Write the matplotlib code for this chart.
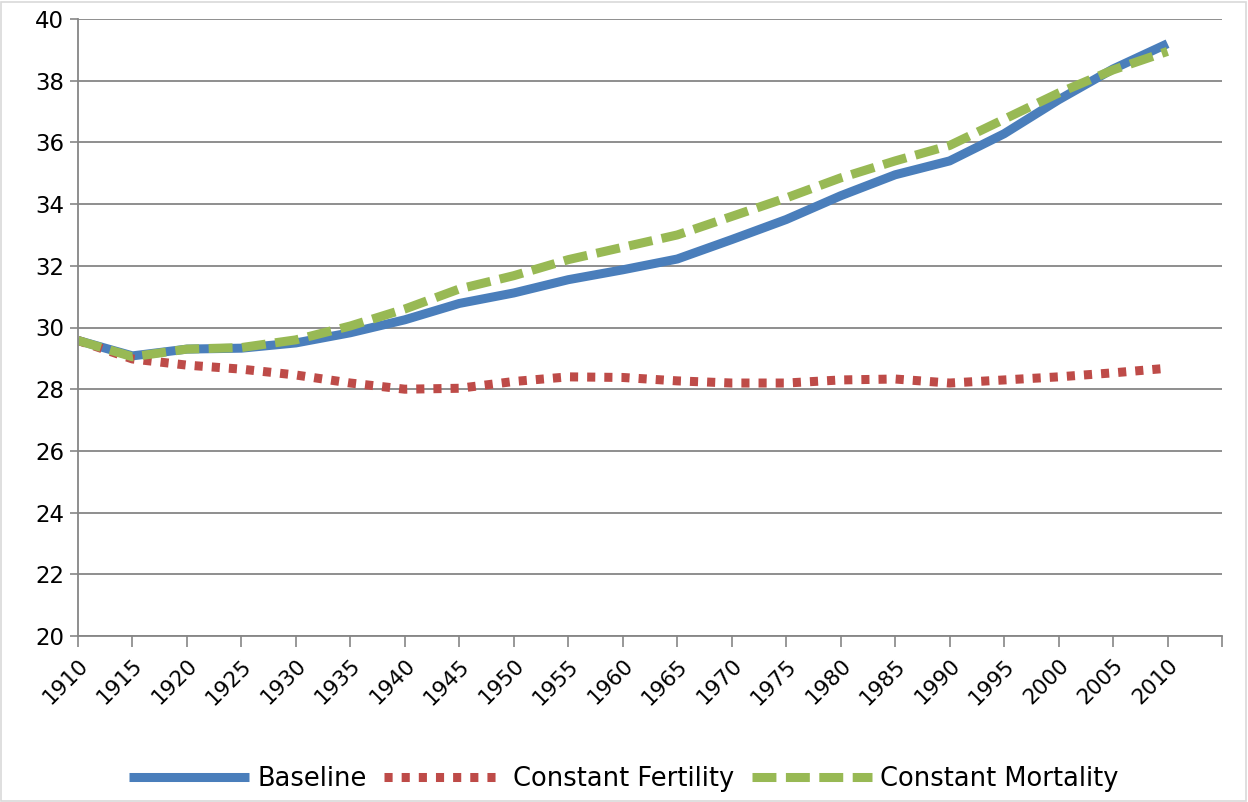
import matplotlib.pyplot as plt
from matplotlib.patches import Rectangle

years = [1910, 1915, 1920, 1925, 1930, 1935, 1940, 1945, 1950, 1955, 1960,
         1965, 1970, 1975, 1980, 1985, 1990, 1995, 2000, 2005, 2010]
baseline = [29.58, 29.08, 29.3, 29.33, 29.5, 29.83, 30.25, 30.78, 31.12, 31.55, 31.87,
            32.22, 32.85, 33.5, 34.27, 34.95, 35.4, 36.28, 37.38, 38.38, 39.2]
const_fertility = [29.58, 28.98, 28.78, 28.65, 28.46, 28.2, 28.0, 28.03, 28.25, 28.4, 28.38,
                   28.27, 28.2, 28.2, 28.3, 28.33, 28.2, 28.3, 28.4, 28.53, 28.68]
const_mortality = [29.58, 29.05, 29.3, 29.35, 29.6, 30.05, 30.6, 31.25, 31.68, 32.2, 32.6,
                   33.0, 33.6, 34.2, 34.85, 35.4, 35.9, 36.75, 37.6, 38.35, 38.95]

GRID = "#868686"
plt.rcParams["font.family"] = "DejaVu Sans"

fig = plt.figure(figsize=(12.48, 8.02), dpi=100)
ax = fig.add_axes([78 / 1248, 1 - 636 / 802, (1222 - 78) / 1248, (636 - 19) / 802])

# chart area border
fig.patches.append(Rectangle((0.0005, 0.001), 0.998, 0.997, transform=fig.transFigure,
                             fill=False, edgecolor="#d9d9d9", linewidth=1.2))

x = list(range(len(years)))
lw = 6.5
ax.plot(x, baseline, color="#4a7ebb", lw=lw, solid_capstyle="butt", label="Baseline")
ax.plot(x, const_fertility, color="#be4b48", lw=lw, dashes=(0.9, 1.0),
        dash_capstyle="butt", label="Constant Fertility")
ax.plot(x, const_mortality, color="#98b954", lw=lw, dashes=(2.65, 1.05),
        dash_capstyle="butt", label="Constant Mortality")

ax.set_ylim(20, 40)
ax.set_yticks(range(20, 41, 2))
ax.set_xlim(0, len(years))
ax.set_xticks(range(len(years) + 1))
ax.set_xticklabels([str(y) for y in years] + [""], rotation=45, ha="right",
                   rotation_mode="anchor", fontsize=15.5)
ax.tick_params(axis="y", labelsize=16.5, length=6, width=1.2, color=GRID, pad=4)
ax.tick_params(axis="x", length=8, width=1.2, color=GRID, pad=6)

ax.grid(axis="y", color=GRID, linewidth=1.3)
ax.set_axisbelow(True)
for side in ["top", "right"]:
    ax.spines[side].set_visible(False)
for side in ["left", "bottom"]:
    ax.spines[side].set_color(GRID)
    ax.spines[side].set_linewidth(1.3)

leg = fig.legend(loc="center", bbox_to_anchor=(0.5, 1 - 779 / 802), ncol=3,
                 frameon=False, fontsize=18.5, handlelength=4.67, handletextpad=0.35,
                 columnspacing=0.66)

fig.savefig("out.png", dpi=100)
